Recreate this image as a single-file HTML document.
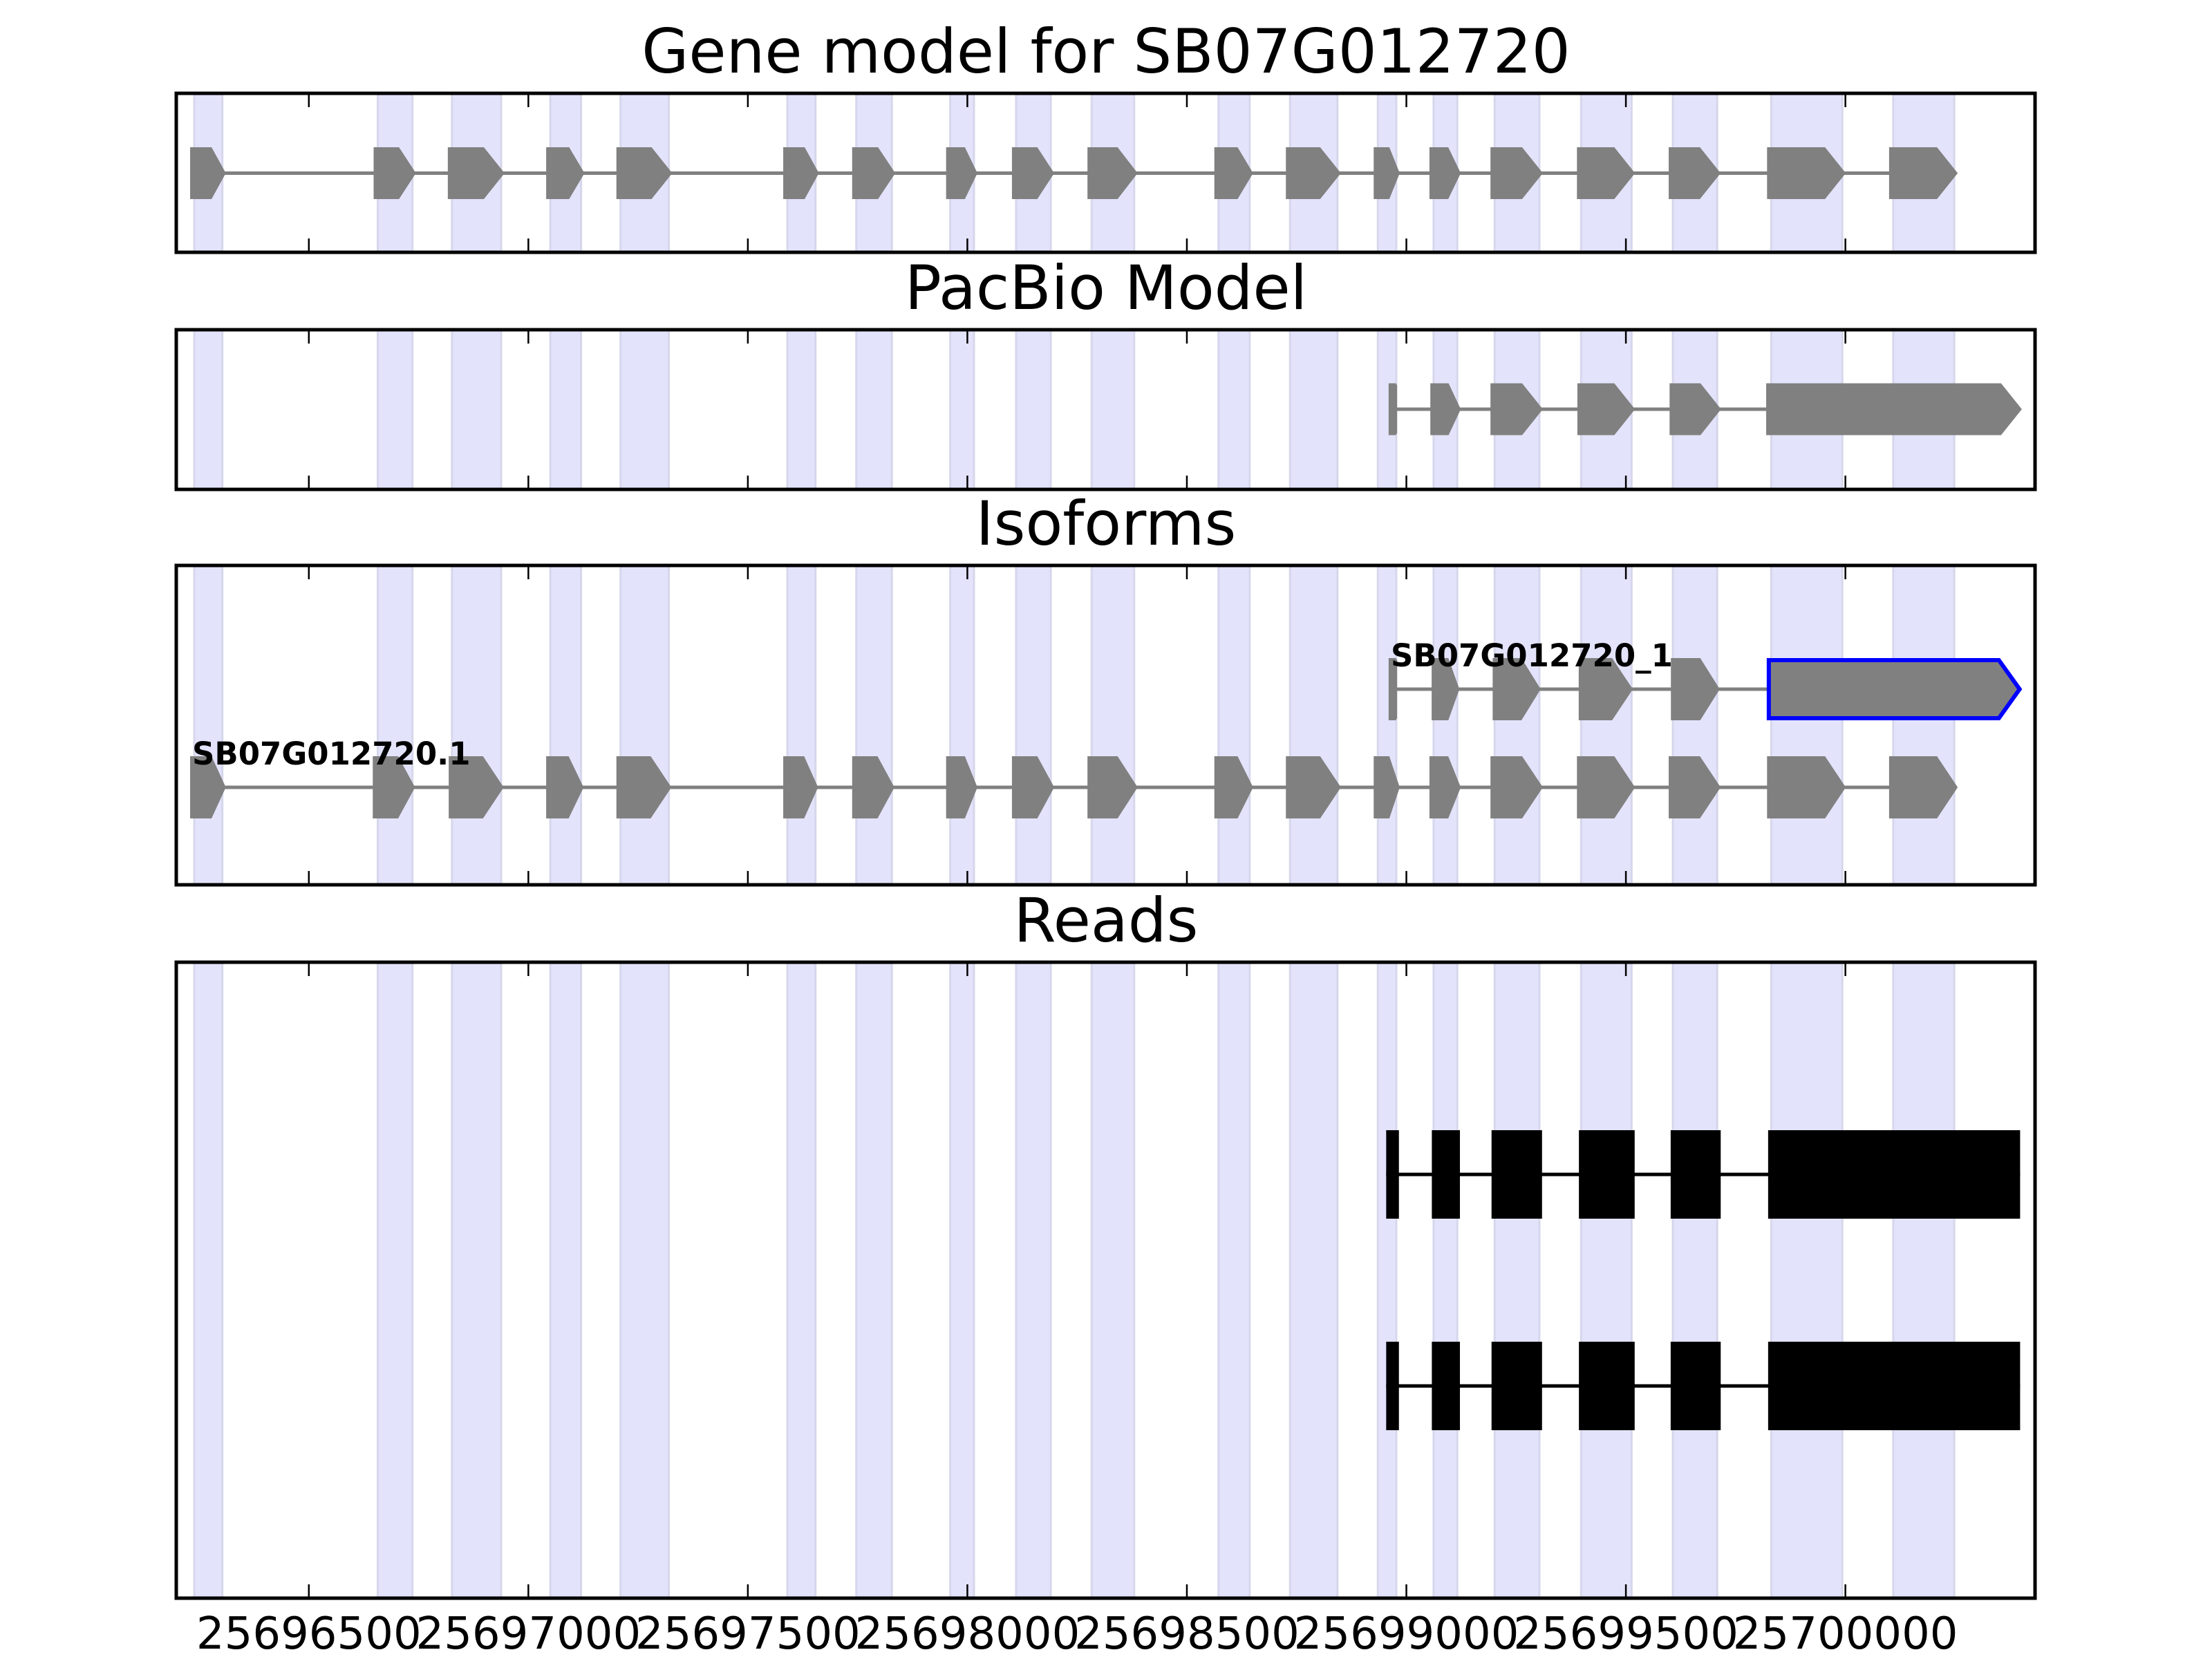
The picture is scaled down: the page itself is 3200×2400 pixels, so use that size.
<!DOCTYPE html>
<html>
<head>
<meta charset="utf-8">
<style>
html,body{margin:0;padding:0;background:#fff;}
svg{display:block;}
text{font-family:"DejaVu Sans","Liberation Sans",sans-serif;}
</style>
</head>
<body>
<svg id="chart" width="3200" height="2400" viewBox="0 0 3200 2400" xmlns="http://www.w3.org/2000/svg">
<rect x="0" y="0" width="3200" height="2400" fill="#fff"/>
</svg>
<script>
// ---- data (genomic coordinates, bp) ----
const geneExonStarts = [25696239,25696657,25696826,25697050,25697210,25697590,25697747,25697961,25698111,25698283,25698572,25698735,25698935,25699062,25699201,25699398,25699607,25699831,25700109];
const geneExonEnds   = [25696303,25696736,25696938,25697120,25697320,25697654,25697828,25698015,25698190,25698380,25698643,25698843,25698977,25699116,25699303,25699513,25699708,25699993,25700248];
const pacbioExonStarts = [25698969,25699064,25699201,25699399,25699609,25699829];
const pacbioExonEnds   = [25698971,25699116,25699303,25699513,25699709,25700394];
const isoAExonStarts = [25698969,25699067,25699206,25699402,25699612,25699835];
const isoAExonEnds   = [25698971,25699113,25699298,25699508,25699706,25700389];
const isoBExonStarts = [25696239,25696655,25696828,25697050,25697210,25697590,25697747,25697961,25698111,25698283,25698572,25698735,25698935,25699062,25699201,25699398,25699607,25699831,25700109];
const isoBExonEnds   = [25696303,25696734,25696936,25697118,25697318,25697652,25697826,25698015,25698190,25698380,25698643,25698843,25698977,25699116,25699303,25699513,25699708,25699993,25700248];
const readExonStarts = [25698954,25699058,25699194,25699393,25699602,25699824];
const readExonEnds   = [25698983,25699122,25699309,25699520,25699716,25700398];
const readIds = ["read-1","read-2"];
const tickValues = [25696500,25697000,25697500,25698000,25698500,25699000,25699500,25700000];
const tickLabels = ["25696500","25697000","25697500","25698000","25698500","25699000","25699500","25700000"];
const isoLabels = ["SB07G012720_1","SB07G012720.1"];

// ---- axis ----
const X0 = 255, X1 = 2944;
const BP0 = 25696198, BP1 = 25700432;
function xs(bp){ return X0 + (bp - BP0) * (X1 - X0) / (BP1 - BP0); }

const NS = "http://www.w3.org/2000/svg";
const svg = document.getElementById('chart');
function mk(tag, attrs, parent){
  const e = document.createElementNS(NS, tag);
  for (const k in attrs) e.setAttribute(k, attrs[k]);
  (parent || svg).appendChild(e);
  return e;
}

const panels = [
  {name:'gene-model-panel', top:135, bottom:365, title:'Gene model for SB07G012720'},
  {name:'pacbio-model-panel', top:477, bottom:708, title:'PacBio Model'},
  {name:'isoforms-panel', top:818, bottom:1280, title:'Isoforms'},
  {name:'reads-panel', top:1392, bottom:2312, title:'Reads'}
];

function exonGlyph(g, s, e, cy, h, fill, stroke, sw){
  const x0 = xs(s) - 6, x1 = xs(e) + 5;
  const w = x1 - x0;
  const t = w < 20 ? 2 : Math.min(30, 0.4 * w);
  const hh = w < 20 ? h/2 - 3 : 0;
  const pts = [[x0,cy-h/2],[x1-t,cy-h/2],[x1,cy-hh],[x1,cy+hh],[x1-t,cy+h/2],[x0,cy+h/2]].map(p=>p.join(',')).join(' ');
  const p = mk('polygon', {points:pts, fill:fill, stroke:stroke||'none', 'stroke-width':sw||0, 'stroke-linejoin':'miter'}, g);
  
  
  return p;
}

function transcript(g, starts, ends, cy, h, name){
  const tg = mk('g', {}, g);
  
  
  const ln = mk('line', {x1:xs(starts[0]), x2:xs(ends[ends.length-1]), y1:cy, y2:cy, stroke:'#808080', 'stroke-width':5}, tg);
  
  
  for (let i=0;i<starts.length;i++) exonGlyph(tg, starts[i], ends[i], cy, h, '#808080');
  return tg;
}

panels.forEach((P, pi) => {
  const g = mk('g', {});
  
  
  const tt = mk('text', {x:1600, y:P.top-30, 'font-size':88, 'text-anchor':'middle', fill:'#000'}, g);
  tt.textContent = P.title;
  
  
  for (let i=0;i<geneExonStarts.length;i++){
    const a = xs(geneExonStarts[i]), b = xs(geneExonEnds[i]);
    const r = mk('rect', {x:a, y:P.top, width:b-a, height:P.bottom-P.top, fill:'#e3e3fb', stroke:'#d6d6ec', 'stroke-width':3}, g);
    
    
  }
  if (pi === 0){
    transcript(g, geneExonStarts, geneExonEnds, 250.5, 75, 'gene-model-transcript');
  } else if (pi === 1){
    transcript(g, pacbioExonStarts, pacbioExonEnds, 592, 75, 'pacbio-transcript');
  } else if (pi === 2){
    const ga = mk('g', {}, g);
    
    
    const n = isoAExonStarts.length;
    const la = mk('line', {x1:xs(isoAExonStarts[0]), x2:xs(isoAExonStarts[n-1])-6, y1:997, y2:997, stroke:'#808080', 'stroke-width':5}, ga);
    
    
    for (let i=0;i<n-1;i++) exonGlyph(ga, isoAExonStarts[i], isoAExonEnds[i], 997, 90, '#808080');
    exonGlyph(ga, isoAExonStarts[n-1], isoAExonEnds[n-1], 997, 84, '#808080', '#0000ff', 6);
    const ta = mk('text', {x:2012, y:964, 'font-size':45, 'font-weight':'bold', fill:'#000'}, ga);
    ta.textContent = isoLabels[0];
    
    
    const gb = transcript(g, isoBExonStarts, isoBExonEnds, 1139, 90, 'isoform-sb07g012720-1');
    const tb = mk('text', {x:278, y:1106, 'font-size':45, 'font-weight':'bold', fill:'#000'}, gb);
    tb.textContent = isoLabels[1];
    
    
  } else {
    const ys = [1699, 2005];
    readIds.forEach((id, ri) => {
      const cy = ys[ri];
      const rg = mk('g', {}, g);
      
      
      const l = mk('line', {x1:xs(readExonStarts[0]), x2:xs(readExonEnds[readExonEnds.length-1]), y1:cy, y2:cy, stroke:'#000', 'stroke-width':5}, rg);
      
      
      for (let i=0;i<readExonStarts.length;i++){
        const a = xs(readExonStarts[i]), b = xs(readExonEnds[i]);
        const r = mk('rect', {x:a, y:cy-64, width:b-a, height:128, fill:'#000'}, rg);
        
        
      }
    });
  }
  tickValues.forEach(v => {
    const x = xs(v);
    const t1 = mk('line', {x1:x, x2:x, y1:P.top, y2:P.top+20, stroke:'#000', 'stroke-width':2.5}, g);
    
    
    const t2 = mk('line', {x1:x, x2:x, y1:P.bottom, y2:P.bottom-20, stroke:'#000', 'stroke-width':2.5}, g);
    
    
  });
  const fr = mk('rect', {x:X0, y:P.top, width:X1-X0, height:P.bottom-P.top, fill:'none', stroke:'#000', 'stroke-width':5}, g);
  
  
});

const lg = mk('g', {});


tickValues.forEach((v, i) => {
  const t = mk('text', {x:xs(v), y:2385, 'font-size':64, 'text-anchor':'middle', fill:'#000'}, lg);
  t.textContent = tickLabels[i];
  
  
});
</script>
</body>
</html>
